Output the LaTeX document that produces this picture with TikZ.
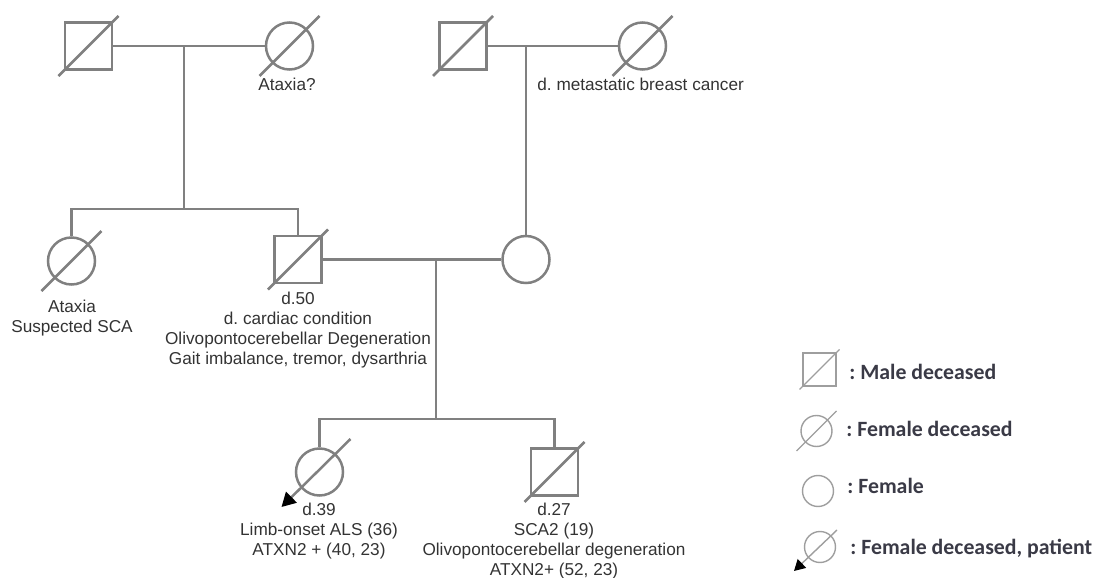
\documentclass[tikz,border=0pt]{standalone}
\usepackage{fontspec}
\setmainfont{Liberation Sans}
\newfontfamily\keyfont{Carlito}
\usepackage{tikz}
\usetikzlibrary{arrows.meta}
\frenchspacing

\definecolor{pedline}{HTML}{808080}
\definecolor{keyline}{HTML}{9E9E9E}
\definecolor{pedtext}{HTML}{333333}
\definecolor{keytext}{HTML}{3A3A46}

\tikzset{
	line/.style={draw=pedline,line width=1.25pt},
	male/.style={line,rectangle,minimum size=23.5pt,inner sep=0pt},
	female/.style={line,circle,minimum size=23.5pt,inner sep=0pt},
	lbl/.style={text=pedtext,font=\fontsize{8.6}{10}\selectfont,align=center,inner sep=0pt},
	keyln/.style={draw=keyline,line width=0.7pt},
	keymale/.style={keyln,rectangle,minimum size=16.5pt,inner sep=0pt},
	keyfemale/.style={keyln,circle,minimum size=15.5pt,inner sep=0pt},
	keylbl/.style={text=keytext,font=\keyfont\bfseries\fontsize{10.9}{12}\selectfont,inner sep=0pt,anchor=base west},
	proband/.style={-{Triangle[length=7pt,width=7.5pt,color=black]}}
}

\begin{document}
\begin{tikzpicture}[x=0.5pt,y=-0.5pt]
	\useasboundingbox (0,0) rectangle (1100,578);
	% grandparents
	\node[male] at (88.5,46) (gf) {};
	\node[female] at (289.5,46) (gm) {};
	\node[male] at (463,46) (mgf) {};
	\node[female] at (642.5,46) (mgm) {};
	% parents generation
	\node[female] at (71.5,261) (aunt) {};
	\node[male] at (298,259.5) (dad) {};
	\node[female] at (526,259.5) (mum) {};
	% children
	\node[female] at (319.5,472) (sis) {};
	\node[male] at (554.5,472) (son) {};

	\coordinate (pc) at (184,46);
	\coordinate (s1) at (184,209);
	\coordinate (pc2) at (436,259.5);
	\coordinate (s2) at (436,419);

	\draw[line] (gf) -- (gm);
	\draw[line] (pc) -- (s1);
	\draw[line] (aunt) |- (s1) -| (dad);
	\draw[line] (mgf) -- (mgm);
	\draw[line] (mum |- mgf) -- (mum);
	\draw[line] (dad) -- (mum);
	\draw[line] (pc2) -- (s2);
	\draw[line] (sis) |- (s2) -| (son);

	% deceased
	\foreach \n in {gf,gm,mgf,mgm,aunt,dad,son}
		\draw[line] ([shift={(-30,30)}]\n.center) -- ([shift={(30,-30)}]\n.center);
	\draw[line,proband] ([shift={(31,-33)}]sis.center) -- ([shift={(-38,35)}]sis.center);

	% labels
	\node[lbl,anchor=north] at (287,78) (gmlbl) {Ataxia?};
	\node[lbl,anchor=north west] at (537,78) (mgmlbl) {d. metastatic breast cancer};
	\node[lbl,anchor=north] at (72,300) (auntlbl) {Ataxia\\Suspected SCA};
	\node[lbl,anchor=north] at (298,292) (dadlbl) {d.50\\d. cardiac condition\\Olivopontocerebellar Degeneration\\Gait imbalance, tremor, dysarthria};
	\node[lbl,anchor=north] at (319,503) (sislbl) {d.39\\Limb-onset ALS (36)\\ATXN2 + (40, 23)};
	\node[lbl,anchor=north] at (554,503) (sonlbl) {d.27\\SCA2 (19)\\Olivopontocerebellar degeneration\\ATXN2+ (52, 23)};

	% key
	\node[keymale] at (819.5,369.5) (kmale) {};
	\node[keyfemale] at (816.5,431) (kdead) {};
	\node[keyfemale] at (818,491) (kfem) {};
	\node[keyfemale] at (820,547) (kpat) {};
	\foreach \n in {kmale,kdead}
		\draw[keyln] ([shift={(-20,20)}]\n.center) -- ([shift={(20,-20)}]\n.center);
	\draw[keyln,-{Triangle[length=5.5pt,width=6pt,color=black]}] ([shift={(17,-17)}]kpat.center) -- ([shift={(-26,24)}]kpat.center);
	\node[keylbl] at (849,379) (kmalelbl) {: Male deceased};
	\node[keylbl] at (846,436) (kdeadlbl) {: Female deceased};
	\node[keylbl] at (847,493) (kfemlbl) {: Female};
	\node[keylbl] at (850,554) (kpatlbl) {: Female deceased, patient};
\end{tikzpicture}
\end{document}
